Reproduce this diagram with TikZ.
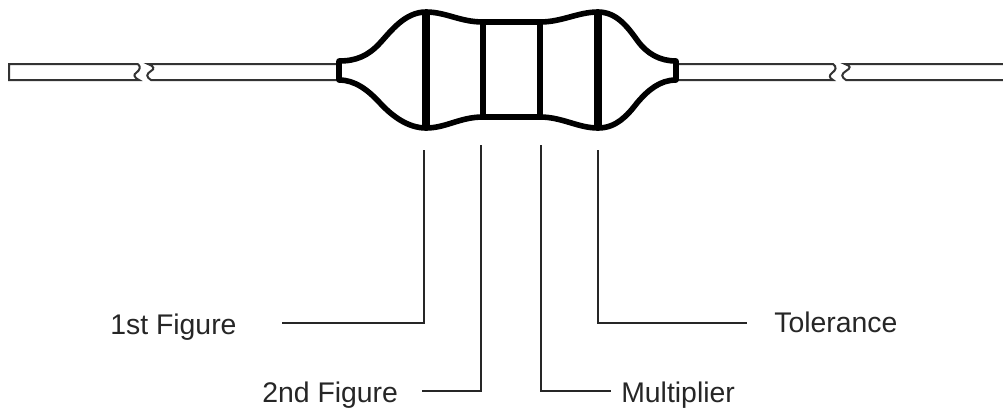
\documentclass[tikz,border=0pt]{standalone}
\usepackage{fontspec}
\setmainfont{Liberation Sans}
\tikzset{
  px/.style={x=0.75pt,y=-0.75pt},
  wire/.style={draw=black!80,line width=1.5pt,line join=miter},
  body/.style={draw=black,line width=4.2pt,line join=round,fill=white},
  band/.style={draw=black,line width=5.4pt},
  innerband/.style={draw=black,line width=4.8pt},
  leader/.style={draw=black!85,line width=1.2pt},
  lab/.style={inner sep=0pt,anchor=base west,font=\fontsize{21.3}{22}\selectfont,text=black!85}
}
\begin{document}
\begin{tikzpicture}[px]
\useasboundingbox (0,0) rectangle (1003,411);
% wires
\draw[wire] (138,64) -- (9,64) -- (9,80) -- (139,80) .. controls (133,77) and (134,74) .. (136,73) .. controls (140,70) and (141,67) .. (138,64);
\draw[wire] (338,64) -- (148,64) .. controls (154,66) and (155,69) .. (151,71) .. controls (146,74) and (146,77) .. (151,80) -- (338,80);
\draw[wire] (676,64) -- (833,64) .. controls (837,67) and (836,70) .. (832,73) .. controls (829,75) and (829,78) .. (833,80) -- (676,80);
\draw[wire] (1003,64) -- (845,64) .. controls (851,66) and (851,68) .. (846,71) .. controls (841,74) and (841,77) .. (846,80) -- (1003,80);
% body
\path[body] (339,61)
  .. controls (356,61) and (368,56) .. (380,43)
  .. controls (391,31) and (405,12) .. (426,12)
  .. controls (446,12) and (460,22) .. (483,22)
  -- (540,22)
  .. controls (562,22) and (578,12) .. (598,12)
  .. controls (616,12) and (627,26) .. (637,40)
  .. controls (647,54) and (660,61) .. (676,61)
  -- (676,80)
  .. controls (660,80) and (648,90) .. (637,103)
  .. controls (627,116) and (616,128) .. (598,128)
  .. controls (578,128) and (562,117) .. (540,117)
  -- (483,117)
  .. controls (460,117) and (446,128) .. (426,128)
  .. controls (408,128) and (392,116) .. (380,103)
  .. controls (368,90) and (355,80) .. (339,80)
  -- cycle;
\draw[band] (426,12) -- (426,128);
\draw[innerband] (483,22) -- (483,117);
\draw[innerband] (540,22) -- (540,117);
\draw[band] (598,12) -- (598,128);
% labels
\node[lab] (l1) at (110,334) {1st Figure};
\node[lab] (l2) at (262,402) {2nd Figure};
\node[lab] (l3) at (621,402) {Multiplier};
\node[lab] (l4) at (774,332) {Tolerance};
% leaders
\coordinate (a1) at (424,150);
\coordinate (a2) at (481,145);
\coordinate (a3) at (541,145);
\coordinate (a4) at (598,150);
\coordinate (e1) at (282,323);
\coordinate (e2) at (422,391);
\coordinate (e3) at (611,391);
\coordinate (e4) at (747,323);
\draw[leader] (a1) |- (e1);
\draw[leader] (a2) |- (e2);
\draw[leader] (a3) |- (e3);
\draw[leader] (a4) |- (e4);
\end{tikzpicture}
\end{document}
